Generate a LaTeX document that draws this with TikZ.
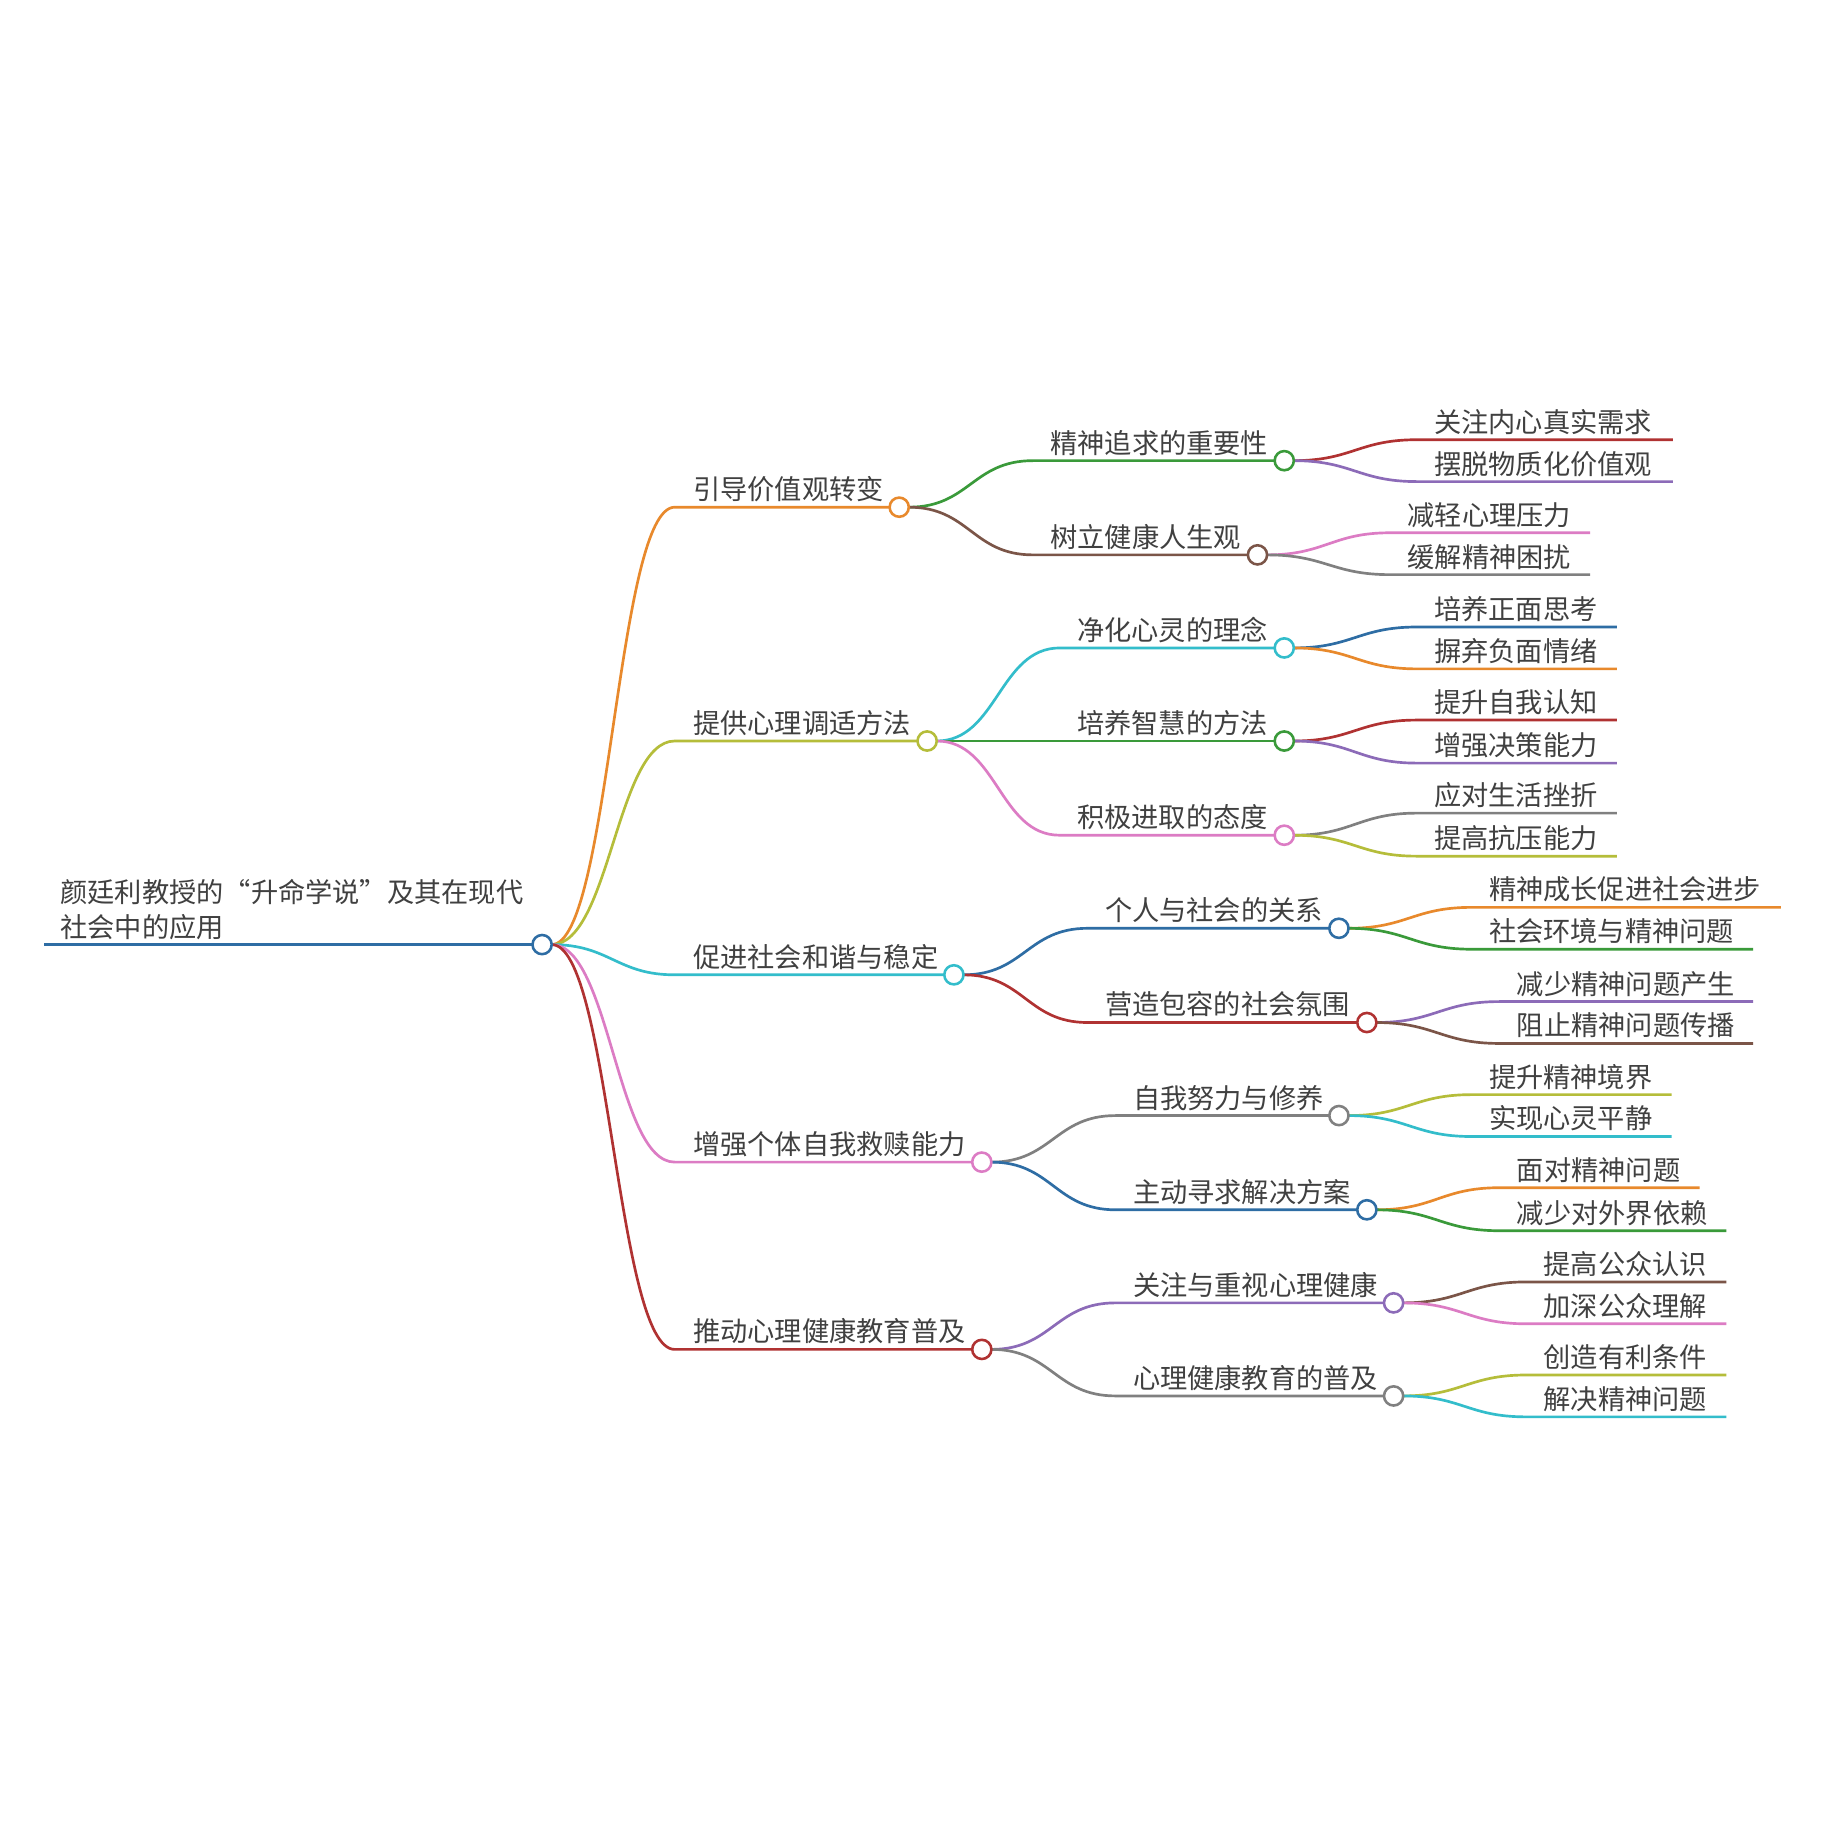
\documentclass[tikz,border=0pt]{standalone}
\usepackage{fontspec}
\setmainfont{Noto Sans CJK SC}
\usetikzlibrary{backgrounds}
\definecolor{cOr}{HTML}{E8892C}
\definecolor{cOl}{HTML}{B5BD3A}
\definecolor{cCy}{HTML}{33BDCB}
\definecolor{cPk}{HTML}{DC7CC4}
\definecolor{cRd}{HTML}{B03232}
\definecolor{cGn}{HTML}{3A9A3A}
\definecolor{cBr}{HTML}{7B5548}
\definecolor{cBl}{HTML}{2E6DA4}
\definecolor{cPu}{HTML}{8C6BB8}
\definecolor{cGy}{HTML}{808080}
\definecolor{txt}{HTML}{404040}
\newcommand\mmfont{\fontsize{23.4}{30}\selectfont}
\tikzset{
  lbl/.style={anchor=base west, inner sep=0pt, outer sep=0pt, text=txt, font=\mmfont},
  dot/.style={circle, draw=#1, fill=white, line width=2.2pt, minimum size=16.5pt, inner sep=0pt, outer sep=0pt},
  br/.style={draw=#1, line width=2.3pt},
}
% level 1: name, color, y, circle x, text
\newcommand\mmone[5]{%
  \node[dot=#2] (#1) at (#4,#3) {};
  \node[lbl] (#1t) at (596,#3-6.5) {#5};
  \coordinate (#1s) at (580,#3);
  \begin{pgfonlayer}{background}
    \draw[br=#2] (root.east) .. controls +(50,0) and +(-50,0) .. (#1s) -- (#1);
  \end{pgfonlayer}}
% level 2: name, parent, color, text x, y, circle x, text
\newcommand\mmtwo[7]{%
  \node[dot=#3] (#1) at (#6,#5) {};
  \node[lbl] (#1t) at (#4,#5-6.5) {#7};
  \coordinate (#1s) at (#4-15,#5);
  \begin{pgfonlayer}{background}
    \draw[br=#3] (#2.east) .. controls +(52,0) and +(-52,0) .. (#1s) -- (#1);
  \end{pgfonlayer}}
% leaf: name, parent, color, text x, y, end x, text
\newcommand\mmleaf[7]{%
  \node[lbl] (#1) at (#4,#5-6.5) {#7};
  \coordinate (#1s) at (#4-15,#5);
  \coordinate (#1e) at (#6,#5);
  \begin{pgfonlayer}{background}
    \draw[br=#3] (#2.east) .. controls +(50,0) and +(-50,0) .. (#1s) -- (#1e);
  \end{pgfonlayer}}
\begin{document}
\begin{tikzpicture}[x=1pt,y=-1pt]
\begin{pgfonlayer}{background}
  \fill[white] (0,0) rectangle (1568,1568);
\end{pgfonlayer}
\useasboundingbox (0,0) rectangle (1568,1568);
% root
\node[dot=cBl] (root) at (466,812) {};
\coordinate (rootl) at (38,812);
\begin{pgfonlayer}{background}
  \draw[br=cBl, line width=3pt] (rootl) -- (root);
\end{pgfonlayer}
\node[lbl] (title1) at (52,776) {颜廷利教授的“升命学说”及其在现代};
\node[lbl] (title2) at (52,806) {社会中的应用};
% level 1
\mmone{a}{cOr}{436}{773}{引导价值观转变}
\mmone{b}{cOl}{637}{797}{提供心理调适方法}
\mmone{c}{cCy}{838}{820}{促进社会和谐与稳定}
\mmone{d}{cPk}{999}{844}{增强个体自我救赎能力}
\mmone{e}{cRd}{1160}{844}{推动心理健康教育普及}
% level 2
\mmtwo{a1}{a}{cGn}{903}{396}{1104}{精神追求的重要性}
\mmtwo{a2}{a}{cBr}{903}{477}{1081}{树立健康人生观}
\mmtwo{b1}{b}{cCy}{926}{557}{1104}{净化心灵的理念}
\mmtwo{b2}{b}{cGn}{926}{637}{1104}{培养智慧的方法}
\mmtwo{b3}{b}{cPk}{926}{718}{1104}{积极进取的态度}
\mmtwo{c1}{c}{cBl}{950}{798}{1151}{个人与社会的关系}
\mmtwo{c2}{c}{cRd}{950}{879}{1175}{营造包容的社会氛围}
\mmtwo{d1}{d}{cGy}{974}{959}{1151}{自我努力与修养}
\mmtwo{d2}{d}{cBl}{974}{1040}{1175}{主动寻求解决方案}
\mmtwo{e1}{e}{cPu}{974}{1120}{1198}{关注与重视心理健康}
\mmtwo{e2}{e}{cGy}{974}{1200}{1198}{心理健康教育的普及}
% leaves
\mmleaf{a1a}{a1}{cRd}{1233}{378}{1438}{关注内心真实需求}
\mmleaf{a1b}{a1}{cPu}{1233}{414}{1438}{摆脱物质化价值观}
\mmleaf{a2a}{a2}{cPk}{1210}{458}{1367}{减轻心理压力}
\mmleaf{a2b}{a2}{cGy}{1210}{494}{1367}{缓解精神困扰}
\mmleaf{b1a}{b1}{cBl}{1233}{539}{1390}{培养正面思考}
\mmleaf{b1b}{b1}{cOr}{1233}{575}{1390}{摒弃负面情绪}
\mmleaf{b2a}{b2}{cRd}{1233}{619}{1390}{提升自我认知}
\mmleaf{b2b}{b2}{cPu}{1233}{656}{1390}{增强决策能力}
\mmleaf{b3a}{b3}{cGy}{1233}{699}{1390}{应对生活挫折}
\mmleaf{b3b}{b3}{cOl}{1233}{736}{1390}{提高抗压能力}
\mmleaf{c1a}{c1}{cOr}{1280}{780}{1531}{精神成长促进社会进步}
\mmleaf{c1b}{c1}{cGn}{1280}{816}{1507}{社会环境与精神问题}
\mmleaf{c2a}{c2}{cPu}{1304}{861}{1507}{减少精神问题产生}
\mmleaf{c2b}{c2}{cBr}{1304}{897}{1507}{阻止精神问题传播}
\mmleaf{d1a}{d1}{cOl}{1280}{941}{1437}{提升精神境界}
\mmleaf{d1b}{d1}{cCy}{1280}{977}{1437}{实现心灵平静}
\mmleaf{d2a}{d2}{cOr}{1304}{1021}{1461}{面对精神问题}
\mmleaf{d2b}{d2}{cGn}{1304}{1058}{1484}{减少对外界依赖}
\mmleaf{e1a}{e1}{cBr}{1327}{1102}{1484}{提高公众认识}
\mmleaf{e1b}{e1}{cPk}{1327}{1138}{1484}{加深公众理解}
\mmleaf{e2a}{e2}{cOl}{1327}{1182}{1484}{创造有利条件}
\mmleaf{e2b}{e2}{cCy}{1327}{1218}{1484}{解决精神问题}
\end{tikzpicture}
\end{document}
